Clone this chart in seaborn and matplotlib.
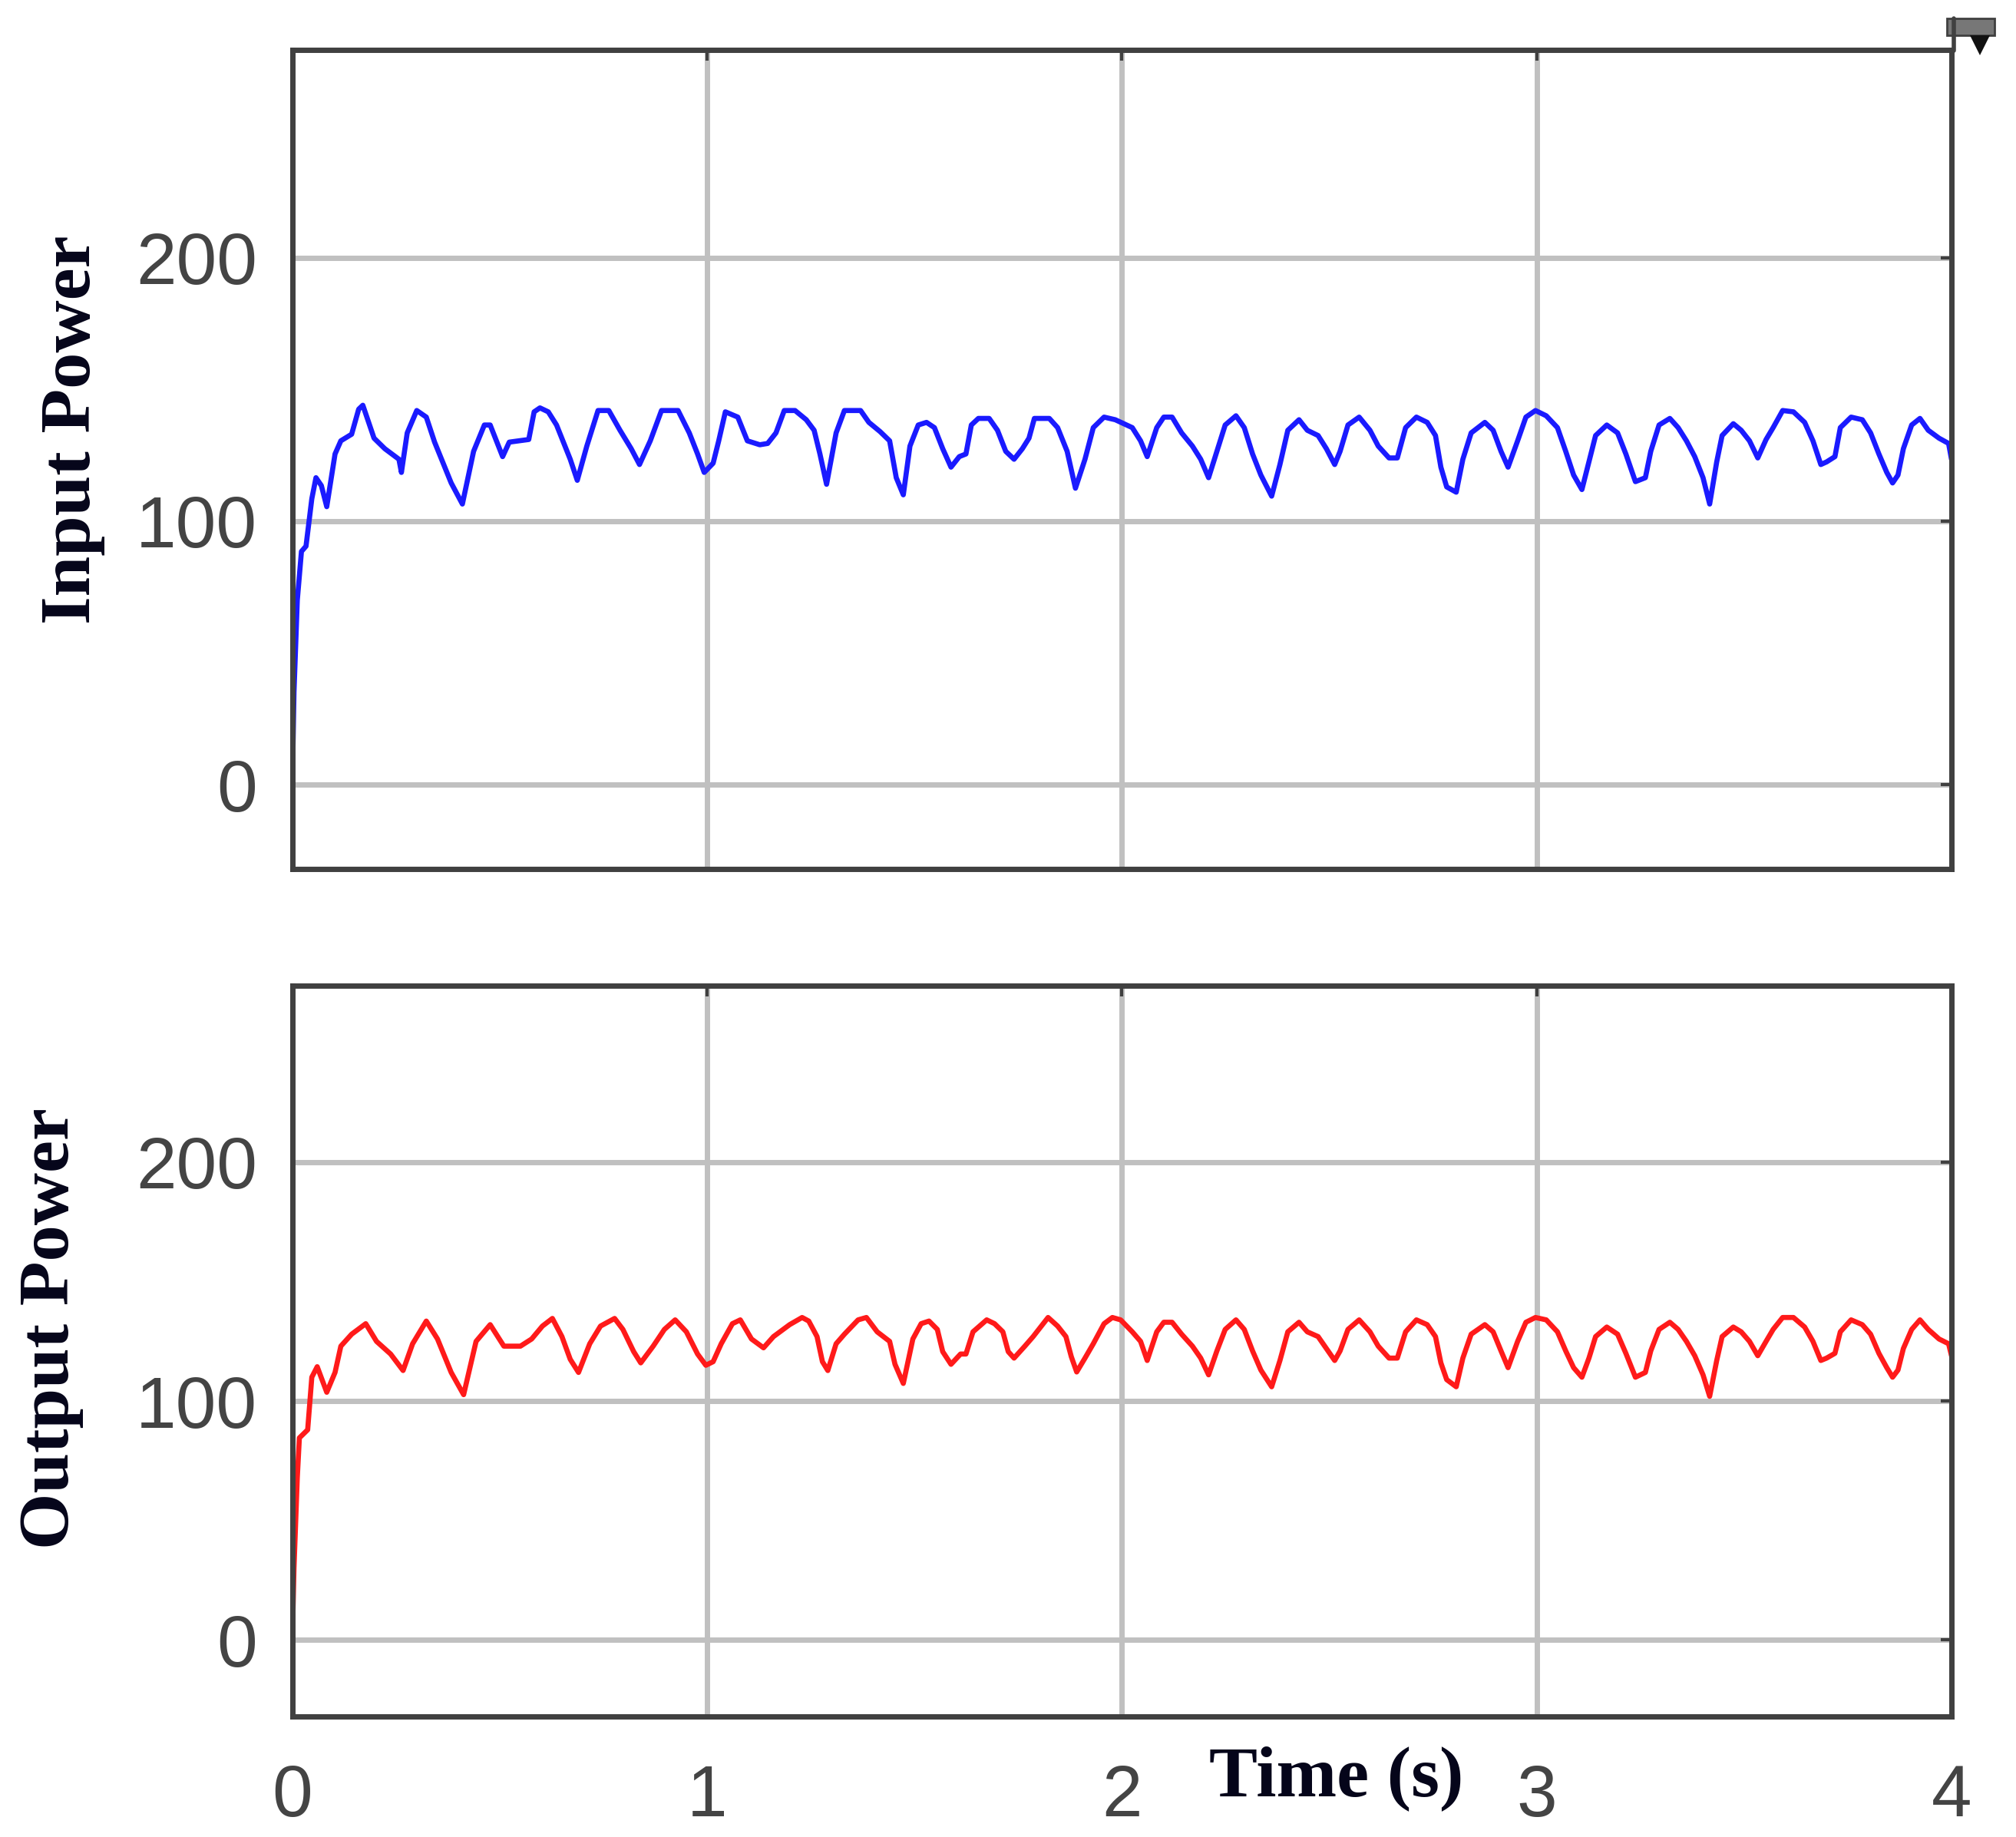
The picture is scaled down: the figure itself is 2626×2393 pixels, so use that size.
import matplotlib.pyplot as plt
import seaborn as sns
from matplotlib.patches import Rectangle, Polygon
from matplotlib.lines import Line2D

# time (s) and power readings for the two scope traces
t_in = [0, 0.004, 0.012, 0.022, 0.033, 0.047, 0.057, 0.07, 0.083, 0.103, 0.117, 0.143, 0.16, 0.17,
        0.197, 0.223, 0.257, 0.263, 0.277, 0.30, 0.323, 0.343, 0.383, 0.41, 0.437, 0.463, 0.477,
        0.507, 0.523, 0.57, 0.583, 0.597, 0.617, 0.637, 0.67, 0.687, 0.71, 0.737, 0.763, 0.79,
        0.817, 0.837, 0.863, 0.89, 0.93, 0.957, 0.977, 0.993,
        1.0145, 1.028, 1.044, 1.074, 1.097, 1.127, 1.146, 1.166, 1.186, 1.212, 1.239, 1.258, 1.272,
        1.288, 1.311, 1.331, 1.37, 1.39, 1.417, 1.44, 1.456, 1.473, 1.489, 1.509, 1.529, 1.548,
        1.568, 1.588, 1.608, 1.624, 1.637, 1.654, 1.68, 1.70, 1.72, 1.74, 1.76, 1.776, 1.789,
        1.825, 1.845, 1.868, 1.888, 1.911, 1.931, 1.957, 1.984,
        2.025, 2.045, 2.061, 2.084, 2.101, 2.121, 2.144, 2.17, 2.19, 2.209, 2.229, 2.249, 2.275,
        2.295, 2.315, 2.335, 2.361, 2.381, 2.40, 2.427, 2.447, 2.473, 2.493, 2.513, 2.526, 2.545,
        2.572, 2.598, 2.618, 2.644, 2.664, 2.684, 2.71, 2.736, 2.756, 2.769, 2.783, 2.806, 2.822,
        2.842, 2.875, 2.895, 2.914, 2.931, 2.954, 2.974,
        2.997, 3.023, 3.05, 3.07, 3.089, 3.109, 3.126, 3.142, 3.169, 3.195, 3.215, 3.238, 3.262,
        3.275, 3.295, 3.321, 3.341, 3.361, 3.381, 3.401, 3.417, 3.434, 3.447, 3.474, 3.493, 3.513,
        3.533, 3.553, 3.57, 3.593, 3.619, 3.646, 3.666, 3.685, 3.699, 3.719, 3.732, 3.758, 3.785,
        3.805, 3.825, 3.844, 3.858, 3.871, 3.884, 3.904, 3.924, 3.944, 3.97, 3.993, 4.0]
p_in = [0, 35, 70, 88.5, 90.5, 108.5, 116.5, 113.5, 105.5, 125.5, 130.5, 133, 142.5, 144,
        131.5, 127.5, 123.5, 118.5, 133.5, 142, 139.5, 130, 114.5, 106.5, 126.5, 136.5, 136.5,
        124.5, 130, 131, 141.5, 143, 141.5, 136.5, 123.5, 115.5, 128.5, 142, 142, 134.5,
        127.5, 121.5, 130.5, 142, 142, 133.5, 125.5, 118.5,
        122, 130.5, 141.5, 139.5, 130.5, 129, 129.5, 133.5, 142, 142, 138.5, 134.5, 125.5,
        114, 133.5, 142, 142, 137.5, 134, 130.5, 116.5, 110, 128.5, 136.5, 137.5, 135.5,
        127.5, 120.5, 124.5, 125.5, 136.5, 139, 139, 134.5, 126.5, 123.5, 127.5, 131.5, 139,
        139, 135.5, 126.5, 112.5, 123.5, 135.5, 139.5, 138.5,
        135.5, 130.5, 124.5, 135.5, 139.5, 139.5, 133.5, 128.5, 123.5, 116.5, 126.5, 136.5, 140,
        135.5, 125.5, 117.5, 109.5, 121.5, 134.5, 138.5, 134.5, 132.5, 127.5, 121.5, 126.5, 136.5,
        139.5, 134.5, 128.5, 124, 124, 135.5, 139.5, 137.5, 132.5, 120.5, 113, 111, 123.5,
        133.5, 137.5, 134.5, 126.5, 120.5, 130.5, 139.5,
        142, 140, 135.5, 126.5, 117.5, 112, 122.5, 132.5, 136.5, 133.5, 125.5, 115, 116.5,
        126.5, 136.5, 139, 135.5, 130.5, 124.5, 116.5, 106.5, 122.5, 132.5, 137, 134.5, 130.5,
        124, 131, 135.5, 142, 141.5, 137.5, 130.5, 121.5, 122.5, 124.5, 135.5, 139.5, 138.5,
        133.5, 125.5, 118.5, 114.5, 117.5, 127.5, 136.5, 139, 134.5, 131.5, 129.5, 123.5]

t_out = [0, 0.004, 0.012, 0.017, 0.037, 0.047, 0.06, 0.083, 0.103, 0.117, 0.143, 0.177, 0.203,
         0.237, 0.267, 0.29, 0.323, 0.35, 0.383, 0.413, 0.443, 0.477, 0.51, 0.55, 0.577, 0.603,
         0.627, 0.65, 0.67, 0.69, 0.717, 0.743, 0.777, 0.797, 0.823, 0.84, 0.87, 0.897, 0.923,
         0.95, 0.977, 0.997,
         1.0145, 1.034, 1.061, 1.08, 1.107, 1.136, 1.16, 1.199, 1.229, 1.245, 1.265, 1.278, 1.291,
         1.311, 1.331, 1.364, 1.384, 1.41, 1.44, 1.453, 1.473, 1.496, 1.516, 1.535, 1.555, 1.568,
         1.588, 1.611, 1.624, 1.641, 1.674, 1.693, 1.713, 1.726, 1.74, 1.766, 1.786, 1.822, 1.845,
         1.865, 1.878, 1.891, 1.911, 1.931, 1.957, 1.977, 1.997,
         2.025, 2.045, 2.061, 2.084, 2.101, 2.121, 2.144, 2.17, 2.19, 2.209, 2.229, 2.249, 2.275,
         2.295, 2.315, 2.335, 2.361, 2.381, 2.40, 2.427, 2.447, 2.473, 2.493, 2.513, 2.526, 2.545,
         2.572, 2.598, 2.618, 2.644, 2.664, 2.684, 2.71, 2.736, 2.756, 2.769, 2.783, 2.806, 2.822,
         2.842, 2.875, 2.895, 2.914, 2.931, 2.954, 2.974,
         2.997, 3.023, 3.05, 3.07, 3.089, 3.109, 3.126, 3.142, 3.169, 3.195, 3.215, 3.238, 3.262,
         3.275, 3.295, 3.321, 3.341, 3.361, 3.381, 3.401, 3.417, 3.434, 3.447, 3.474, 3.493, 3.513,
         3.533, 3.553, 3.57, 3.593, 3.619, 3.646, 3.666, 3.685, 3.699, 3.719, 3.732, 3.758, 3.785,
         3.805, 3.825, 3.844, 3.858, 3.871, 3.884, 3.904, 3.924, 3.944, 3.97, 3.993, 4.0]
p_out = [0, 30, 68, 84.6, 88, 110, 114.4, 103.7, 112, 123, 128, 132.4, 125,
         119.7, 112.8, 124, 133.5, 126, 112, 102.7, 125, 132, 123, 123, 126, 131.4,
         134.6, 127, 117.5, 112, 124, 131.4, 134.6, 130, 120.7, 116, 123, 130, 134,
         129, 119.7, 115,
         116.5, 124, 132.4, 134, 126, 122.3, 127, 132, 135, 133.5, 127, 116.5, 112.8,
         124, 128, 134, 135, 129, 125, 115.4, 107.4, 126, 132.4, 133.5, 130, 120.7,
         115.4, 119.7, 119.7, 129, 134, 132.4, 129, 120.7, 118, 123, 127, 135, 131.4,
         127, 118.6, 112.2, 118, 124, 132.4, 135, 134,
         129, 125, 117, 129, 133, 133, 128, 123, 118, 111, 121, 130, 134,
         130, 121, 113, 106, 117, 129, 133, 129, 127, 122, 117, 121, 130,
         134, 129, 123, 118, 118, 129, 134, 132, 127, 116, 109, 106, 118,
         128, 132, 129, 121, 114, 125, 133,
         135, 134, 129, 121, 114, 110, 118, 127, 131, 128, 120, 110, 112,
         121, 130, 133, 130, 125, 119, 111, 102, 117, 127, 131, 129, 125,
         119, 125, 130, 135, 135, 131, 125, 117, 118, 120, 129, 134, 132,
         128, 120, 114, 110, 113, 122, 130, 134, 130, 126, 124, 119]

x_ticks = [0, 1, 2, 3, 4]
y_ticks = [0, 100, 200]

sns.set_style("white")
plt.rcParams['font.family'] = ['Liberation Sans', 'DejaVu Sans']

W, H = 2626, 2393
fig = plt.figure(figsize=(W / 100, H / 100), dpi=100)
ax1 = fig.add_axes([0.145, 0.527, 0.823, 0.446])
ax2 = fig.add_axes([0.145, 0.0656, 0.823, 0.398])

panels = [(ax1, t_in, p_in, "#1a1aff", (-32, 279)),
          (ax2, t_out, p_out, "#ff1a1a", (-32, 274))]
for ax, t, p, col, lim in panels:
    sns.lineplot(x=t, y=p, ax=ax, color=col, linewidth=4.8, sort=False, estimator=None)
    ax.set_xlim(0, 4)
    ax.set_ylim(*lim)
    ax.set_xticks(x_ticks)
    ax.set_yticks(y_ticks)
    ax.grid(True, color="#c0c0c0", linewidth=5)
    ax.set_axisbelow(True)
    for s in ax.spines.values():
        s.set_color("#404040")
        s.set_linewidth(5)
    ax.tick_params(direction="in", length=10, width=3, color="#404040",
                   labelsize=68, labelcolor="#444444", top=True, right=True)
    ax.tick_params(axis="y", pad=33)
    ax.tick_params(axis="x", pad=44)
    ax.set_xlabel("")
    ax.set_ylabel("")

ax1.tick_params(labelbottom=False)

lab = dict(family=["Liberation Serif", "DejaVu Serif"], fontweight="bold", fontsize=68, color="#05051a")
fig.text(0.036, 0.766, "Input Power", rotation=90, ha="center", va="center", **lab)
fig.text(0.0255, 0.277, "Output Power", rotation=90, ha="center", va="center", **lab)
fig.text(0.663, 0.032, "Time (s)", ha="center", va="center", **lab)

# small dock icon in the top-right corner of the scope window
fig.add_artist(Line2D([2545 / W, 2545 / W], [1 - 66 / H, 1 - 24 / H], transform=fig.transFigure,
                      color="#404040", linewidth=4))
fig.add_artist(Rectangle((2536 / W, 1 - 46 / H), 62 / W, 22 / H, transform=fig.transFigure,
                         facecolor="#777777", edgecolor="#404040", linewidth=2))
fig.add_artist(Polygon([(2566 / W, 1 - 46 / H), (2592 / W, 1 - 46 / H), (2579 / W, 1 - 72 / H)],
                       closed=True, transform=fig.transFigure, facecolor="#111111", edgecolor="none"))

fig.savefig("out.png", dpi=100)
